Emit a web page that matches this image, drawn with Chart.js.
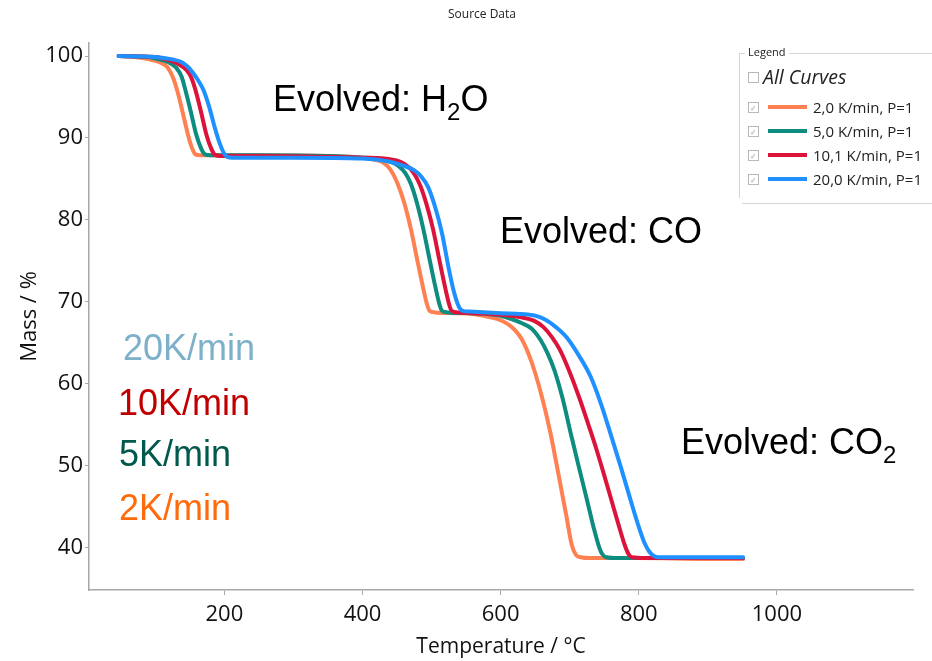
<!DOCTYPE html>
<html>
<head>
<meta charset="utf-8">
<script src="https://cdn.jsdelivr.net/npm/chart.js@4.4.1/dist/chart.umd.min.js"></script>
<style>
body{margin:0;background:#fff;}
#wrap{position:relative;width:932px;height:661px;overflow:hidden;font-family:"Open Sans",sans-serif;}
canvas{position:absolute;left:0;top:0;}
.ann{position:absolute;font-family:"Liberation Sans",Arial,sans-serif;font-size:36px;line-height:36px;white-space:nowrap;color:#000;}
.sub{font-size:24px;position:relative;top:9px;line-height:0;}
#title{position:absolute;top:5px;left:382px;width:200px;text-align:center;font-size:12px;color:#222;}
#lgbox{position:absolute;left:739px;top:53px;width:260px;height:144px;border-left:1px solid #d6d6d6;border-top:1px solid #d6d6d6;}
#lgbottom{position:absolute;left:742px;top:203px;width:200px;border-top:1px solid #d6d6d6;}
#lgname{position:absolute;left:745px;top:45px;background:#fff;padding:0 3px;font-size:11px;color:#222;line-height:14px;}
.cb{position:absolute;left:748px;width:9px;height:9px;border:1px solid #b8b8b8;background:#fff;font-size:8px;line-height:9px;text-align:center;color:#999;}
.sw{position:absolute;left:768px;width:39px;height:4px;}
.lt{position:absolute;left:813px;font-size:15px;line-height:20px;color:#222;white-space:nowrap;}
</style>
</head>
<body>
<div id="wrap">
<canvas id="myChart" width="932" height="661"></canvas>
<div id="title">Source Data</div>
<div class="ann" style="left:273px;top:81px;">Evolved: H<span class="sub">2</span>O</div>
<div class="ann" style="left:500px;top:213px;">Evolved: CO</div>
<div class="ann" style="left:681px;top:424px;">Evolved: CO<span class="sub">2</span></div>
<div class="ann" style="left:123px;top:330px;color:#7DB0C9;">20K/min</div>
<div class="ann" style="left:118px;top:385px;color:#C00000;">10K/min</div>
<div class="ann" style="left:119px;top:436px;color:#00594C;">5K/min</div>
<div class="ann" style="left:119px;top:490px;color:#FF6A0A;">2K/min</div>
<div id="lgbox"></div>
<div id="lgbottom"></div>
<div id="lgname">Legend</div>
<div class="cb" style="top:72px;"></div>
<div class="lt" style="left:763px;top:65px;font-size:19.5px;line-height:24px;font-style:italic;">All Curves</div>
<div id="lgitems"></div>
</div>
<script>
// heating rates and readings (temperature in °C, mass in %)
const seriesNames=['2,0 K/min, P=1','5,0 K/min, P=1','10,1 K/min, P=1','20,0 K/min, P=1'];
const seriesColors=['#FF8050','#0E8C80','#DC143C','#1E90FF'];

const temp2=[47,70,92,105,117,125,132,140,147,153,158,165,250,350,400,420,430,440,450,460,470,480,488,493,497,505,540,560,580,595,610,620,630,640,650,660,672,684,695,703,709,716,730,800,900,951];
const mass2=[100,99.9,99.6,99.3,98.7,97.5,95.7,93.0,90.5,88.8,88.0,87.9,87.9,87.8,87.6,87.3,87.0,86.2,84.6,82.2,78.9,74.8,71.6,69.8,68.9,68.7,68.6,68.5,68.2,67.9,67.3,66.6,65.5,63.7,61.3,58.3,54.0,48.8,43.9,40.3,39.1,38.8,38.7,38.7,38.6,38.6];

const temp5=[47,90,105,118,130,138,144,152,159,166,172,180,250,350,400,425,440,452,462,470,479,488,498,506,511,515,523,560,580,600,615,630,645,658,668,678,690,701,713,725,735,742,747,753,770,850,951];
const mass5=[100,99.9,99.6,99.3,98.6,97.5,95.7,93.0,90.5,88.8,88.0,87.9,87.9,87.8,87.6,87.4,87.1,86.6,85.7,84.4,82.0,78.9,74.8,71.6,69.8,68.9,68.7,68.6,68.5,68.3,67.9,67.4,66.7,65.3,63.7,61.6,58.1,54.1,49.9,45.8,42.3,40.2,39.2,38.8,38.7,38.7,38.7];

const temp10=[47,100,120,132,145,152,159,167,174,181,187,195,250,350,400,440,455,466,475,484,493,502,512,520,525,529,537,560,600,630,648,662,675,686,700,715,727,739,751,763,773,780,785,790,810,870,951];
const mass10=[100,99.9,99.5,99.1,98.3,97.4,95.6,92.9,90.4,88.7,87.9,87.8,87.8,87.7,87.6,87.4,87.1,86.5,85.6,84.1,81.8,78.9,74.8,71.6,69.8,68.9,68.7,68.6,68.4,68.1,67.7,66.9,65.6,64.1,61.4,58.0,55.0,51.9,48.5,45.0,42.1,40.2,39.2,38.8,38.7,38.7,38.7];

const temp20=[47,100,125,137,147,155,163,170,178,186,193,199,204,212,300,400,440,460,474,485,495,505,515,525,533,540,545,555,600,630,650,665,680,696,712,730,745,759,774,788,800,808,815,821,828,850,900,951];
const mass20=[100,99.9,99.6,99.3,98.7,97.9,96.9,95.8,93.8,91.3,89.4,88.2,87.7,87.6,87.6,87.5,87.1,86.6,86.1,85.3,84.0,81.6,78.4,74.0,71.0,69.3,68.9,68.8,68.6,68.5,68.3,67.8,66.9,65.6,63.6,60.9,57.6,53.9,49.8,45.8,42.5,40.6,39.5,39.0,38.8,38.8,38.8,38.8];

const xTicks=[200,400,600,800,1000];
const yTicks=[40,50,60,70,80,90,100];

const temps=[temp2,temp5,temp10,temp20];
const masses=[mass2,mass5,mass10,mass20];

// html legend rows
const rowTops=[97,121,145,169];
let html='';
seriesNames.forEach((n,i)=>{
  html+='<div class="cb" style="top:'+(rowTops[i]+5)+'px;">✓</div>';
  html+='<div class="sw" style="top:'+(rowTops[i]+8)+'px;background:'+seriesColors[i]+';"></div>';
  html+='<div class="lt" style="top:'+rowTops[i]+'px;">'+n+'</div>';
});
document.getElementById('lgitems').innerHTML=html;

const datasets=seriesNames.map((n,i)=>({
  label:n,
  data:temps[i].map((t,j)=>({x:t,y:masses[i][j]})),
  borderColor:seriesColors[i],
  borderWidth:4,
  pointRadius:0,
  cubicInterpolationMode:'monotone',
  borderCapStyle:'round',
  borderJoinStyle:'round',
  order:3-i
}));

const ctx=document.getElementById('myChart').getContext('2d');
const myChart=new Chart(ctx,{
  type:'line',
  data:{datasets:datasets},
  options:{
    responsive:false,
    animation:false,
    layout:{padding:{left:0,right:19,top:43,bottom:0}},
    plugins:{legend:{display:false},tooltip:{enabled:false}},
    scales:{
      x:{
        type:'linear',min:4,max:1197,
        afterBuildTicks:s=>{s.ticks=xTicks.map(v=>({value:v}));},
        afterFit:s=>{s.height=71;},
        grid:{drawOnChartArea:false,drawTicks:true,tickLength:5,color:'#a8a8a8'},
        border:{color:'#a8a8a8',width:1.5},
        ticks:{font:{family:'Open Sans',size:22},color:'#111',padding:7,maxRotation:0,autoSkip:false,callback:v=>String(v)},
        title:{display:true,text:'Temperature / °C',font:{family:'Open Sans',size:21},color:'#111',padding:{top:0,bottom:1}}
      },
      y:{
        type:'linear',min:34.8,max:101.6,
        afterBuildTicks:s=>{s.ticks=yTicks.map(v=>({value:v}));},
        afterFit:s=>{s.width=89;},
        grid:{drawOnChartArea:false,drawTicks:true,tickLength:4,color:'#a8a8a8'},
        border:{color:'#a8a8a8',width:1.5},
        ticks:{font:{family:'Open Sans',size:22},color:'#111',padding:2,callback:v=>String(v)},
        title:{display:true,text:'Mass / %',font:{family:'Open Sans',size:22},color:'#111',padding:{top:17,bottom:0}}
      }
    }
  }
});
</script>
</body>
</html>
